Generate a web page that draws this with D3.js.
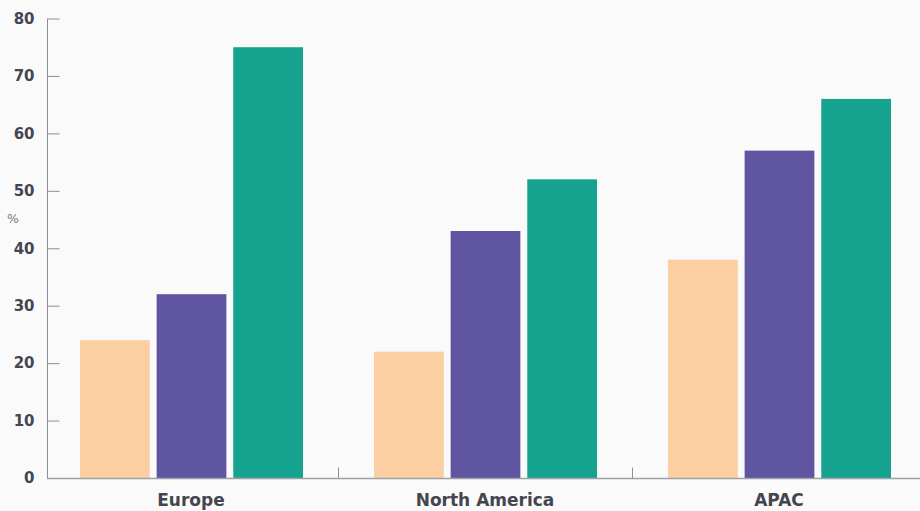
<!DOCTYPE html>
<html><head><meta charset="utf-8">
<script src="https://cdn.jsdelivr.net/npm/d3@7"></script>
<style>
html,body{margin:0;padding:0;background:#fafafa;}
svg{display:block;font-family:"DejaVu Sans",sans-serif;}
</style></head>
<body><svg id="c" width="920" height="511"></svg>
<script>
const categories = ["Europe", "North America", "APAC"];
const seriesNames = ["Series A", "Series B", "Series C"];
const seriesA = [24, 22, 38];
const seriesB = [32, 43, 57];
const seriesC = [75, 52, 66];
const yTicks = [0, 10, 20, 30, 40, 50, 60, 70, 80];
const colors = ["#fbcfa1", "#5f55a0", "#15a38f"];

const series = [seriesA, seriesB, seriesC];
const svg = d3.select("#c");
const x0 = d3.scaleBand().domain(categories).range([44, 926]).paddingInner(0).paddingOuter(0);
const x1 = d3.scaleBand().domain(d3.range(3)).range([36, x0.bandwidth() - 35]).paddingInner(0.09);
const y = d3.scaleLinear().domain([0, 80]).range([478, 18.5]);

const g = svg.append("g");
categories.forEach((c, i) => {
  series.forEach((s, j) => {
    g.append("rect")
      .attr("x", x0(c) + x1(j))
      .attr("y", y(s[i]))
      .attr("width", x1.bandwidth())
      .attr("height", y(0) - y(s[i]))
      .attr("fill", colors[j]);
  });
});

// y axis
const ya = svg.append("g").attr("transform", "translate(47.5,0)")
  .call(d3.axisLeft(y).tickValues(yTicks).tickSize(-12).tickPadding(13));
ya.select(".domain").attr("stroke", "#8e8e99").attr("d", "M0," + y(80) + "V" + y(0));
ya.selectAll(".tick line").attr("stroke", "#8e8e99");
ya.selectAll(".tick text").attr("fill", "#45454f").style("font-family", "DejaVu Sans").style("font-size", "15px").style("font-weight", "700");

// x axis
const xa = svg.append("g").attr("transform", "translate(0,478.5)");
xa.append("line").attr("x1", 47).attr("x2", 920).attr("y1", 0).attr("y2", 0).attr("stroke", "#a0a0aa").attr("stroke-width", 1.5);
categories.slice(1).forEach(c => {
  xa.append("line").attr("x1", Math.round(x0(c)) + 0.5).attr("x2", Math.round(x0(c)) + 0.5)
    .attr("y1", 0).attr("y2", -11).attr("stroke", "#8e8e99");
});
categories.forEach(c => {
  xa.append("text").attr("x", x0(c) + x0.bandwidth() / 2).attr("y", 27.5)
    .attr("text-anchor", "middle").attr("fill", "#45454f")
    .style("font-size", "17px").style("font-weight", "700").text(c);
});

// unit label
svg.append("text").attr("x", 7).attr("y", 223).attr("fill", "#77777f")
  .style("font-size", "12.5px").text("%");
</script></body></html>
